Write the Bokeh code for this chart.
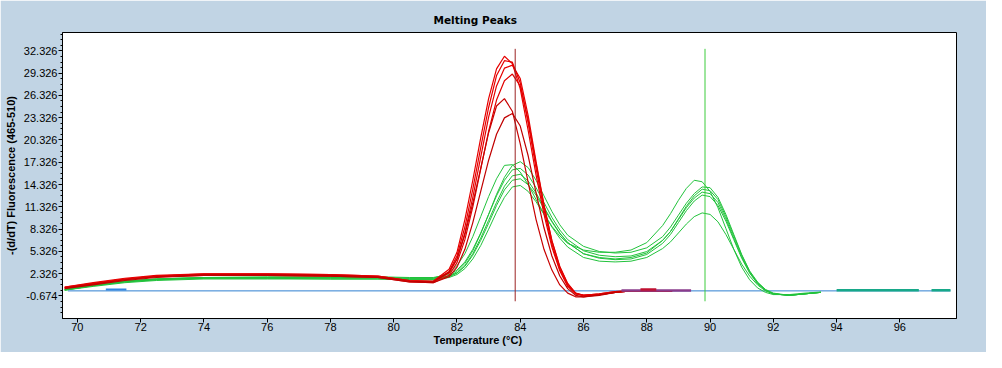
from bokeh.plotting import figure
from bokeh.models import FixedTicker, PrintfTickFormatter, Title, Range1d
from bokeh.embed import file_html
from bokeh.resources import INLINE

# ---------------- data ----------------
T_red = [69.6, 70.5, 71.5, 72.5, 74, 76, 78, 79.5, 80.5, 81.25, 81.75, 82, 82.25, 82.5,
         82.75, 83, 83.25, 83.5, 83.75, 84, 84.25, 84.5, 84.75, 85, 85.25, 85.5, 85.75,
         86, 86.5, 87, 87.5, 88.8]

red_1 = [0.5, 1.1, 1.7, 2.1, 2.3, 2.3, 2.2, 2.0, 1.4, 1.3, 2.9, 5.2, 9.6, 14.9, 20.6, 25.9,
         29.9, 31.6, 30.6, 27.2, 21.6, 15.6, 10.3, 5.9, 2.7, 0.6, -0.4, -0.6, -0.4, -0.1, 0.05, 0.0]
red_2 = [0.4, 1.0, 1.6, 2.0, 2.2, 2.2, 2.1, 1.9, 1.3, 1.2, 2.4, 4.3, 7.8, 12.6, 18.0, 23.4,
         27.6, 30.0, 30.4, 28.6, 23.6, 17.4, 11.6, 6.7, 3.2, 0.9, -0.3, -0.6, -0.5, -0.2, 0.0, 0.0]
red_3 = [0.4, 0.9, 1.5, 1.9, 2.1, 2.1, 2.0, 1.8, 1.2, 1.1, 2.1, 3.8, 6.9, 11.3, 16.4, 21.5,
         25.7, 28.3, 29.2, 27.6, 23.0, 17.1, 11.5, 6.8, 3.3, 1.0, -0.3, -0.6, -0.5, -0.2, 0.0, 0.0]
red_4 = [0.5, 1.0, 1.6, 2.0, 2.3, 2.3, 2.2, 2.0, 1.4, 1.3, 2.6, 4.7, 8.6, 13.7, 19.3, 24.7,
         29.0, 31.0, 30.8, 28.0, 22.6, 16.5, 10.9, 6.3, 2.9, 0.7, -0.4, -0.6, -0.4, -0.1, 0.0, 0.0]
red_5 = [0.4, 0.9, 1.5, 1.9, 2.2, 2.2, 2.1, 1.9, 1.3, 1.2, 2.5, 4.3, 7.6, 11.8, 16.5, 21.3,
         24.9, 25.9, 24.2, 19.8, 14.6, 9.6, 5.6, 2.8, 0.8, -0.3, -0.8, -0.8, -0.5, -0.2, 0.0, 0.0]
red_6 = [0.3, 0.8, 1.4, 1.8, 2.1, 2.1, 2.0, 1.8, 1.2, 1.1, 1.9, 3.2, 5.6, 9.2, 13.4, 17.6,
         21.1, 23.3, 23.9, 22.2, 18.2, 13.2, 8.5, 4.7, 2.0, 0.3, -0.6, -0.8, -0.6, -0.2, 0.0, 0.0]

T_green = [69.6, 70.5, 71.5, 72.5, 74, 76, 78, 79.5, 80.5, 81.25, 81.75, 82, 82.25, 82.5,
           82.75, 83, 83.25, 83.5, 83.75, 84, 84.25, 84.5, 84.75, 85, 85.25, 85.5, 86, 86.5,
           87, 87.5, 88, 88.5, 88.75, 89, 89.25, 89.5, 89.75, 90, 90.25, 90.5, 90.75, 91,
           91.25, 91.5, 91.75, 92, 92.5, 93, 93.5]

green_1 = [0.2, 0.8, 1.3, 1.6, 1.8, 1.8, 1.8, 1.8, 1.7, 1.7,
           2.4, 3.4, 5.0, 7.3, 10.0, 12.7, 15.1, 16.9, 17.0, 16.0,
           14.3, 12.3, 10.4, 8.7, 7.4, 6.4,
           5.5, 5.2, 5.2, 5.5, 6.5,
           8.8, 10.4, 12.2, 13.8, 14.9, 14.7, 13.4, 11.2, 8.4, 5.6, 3.2, 1.5, 0.4, -0.2,
           -0.5, -0.5, -0.3, -0.15]
green_2 = [0.1, 0.7, 1.2, 1.5, 1.7, 1.7, 1.7, 1.7, 1.6, 1.6,
           2.0, 2.6, 3.7, 5.4, 7.7, 10.3, 13.0, 15.3, 16.9, 17.4,
           16.6, 14.9, 12.8, 10.7, 8.9, 7.5,
           6.0, 5.3, 5.1, 5.2, 5.8,
           7.3, 8.6, 10.2, 11.8, 13.1, 14.0, 13.9, 12.6, 10.3, 7.6, 4.9, 2.7, 1.2, 0.2,
           -0.3, -0.6, -0.4, -0.2]
green_3 = [0.2, 0.8, 1.3, 1.6, 1.8, 1.9, 1.9, 1.9, 1.8, 1.8,
           2.2, 2.8, 3.9, 5.6, 7.8, 10.3, 12.8, 14.9, 16.3, 16.5,
           15.6, 13.9, 11.9, 9.9, 8.2, 6.9,
           5.4, 4.8, 4.6, 4.7, 5.3,
           6.8, 8.0, 9.6, 11.2, 12.5, 13.3, 13.1, 11.9, 9.7, 7.1, 4.6, 2.5, 1.0, 0.1,
           -0.4, -0.6, -0.4, -0.2]
green_4 = [0.1, 0.7, 1.2, 1.5, 1.7, 1.7, 1.6, 1.6, 1.5, 1.5,
           1.9, 2.4, 3.4, 5.0, 7.1, 9.5, 11.9, 14.1, 15.5, 15.7,
           14.8, 13.2, 11.3, 9.4, 7.8, 6.5,
           5.0, 4.4, 4.2, 4.3, 4.9,
           6.4, 7.6, 9.2, 10.8, 12.1, 12.9, 12.7, 11.5, 9.4, 6.9, 4.4, 2.4, 1.0, 0.1,
           -0.4, -0.6, -0.4, -0.2]
green_5 = [0.2, 0.8, 1.3, 1.6, 1.8, 1.8, 1.8, 1.8, 1.7, 1.7,
           2.0, 2.4, 3.3, 4.8, 6.8, 9.1, 11.5, 13.6, 14.9, 15.1,
           14.3, 12.9, 11.1, 9.3, 7.7, 6.5,
           5.0, 4.5, 4.3, 4.5, 5.1,
           6.8, 8.0, 9.7, 11.4, 12.8, 13.7, 13.5, 12.3, 10.0, 7.4, 4.8, 2.6, 1.1, 0.1,
           -0.4, -0.6, -0.4, -0.2]
green_6 = [0.1, 0.6, 1.1, 1.4, 1.6, 1.6, 1.6, 1.6, 1.5, 1.5,
           1.8, 2.2, 3.0, 4.3, 6.1, 8.3, 10.6, 12.6, 14.0, 14.2,
           13.4, 12.0, 10.3, 8.6, 7.1, 5.9,
           4.5, 4.0, 3.9, 4.0, 4.5,
           5.7, 6.6, 7.8, 9.0, 10.0, 10.5, 10.3, 9.3, 7.6, 5.6, 3.6, 2.0, 0.8, 0.0,
           -0.4, -0.6, -0.4, -0.2]

# flat traces (negative controls) near zero
base_T = [69.7, 97.6]
base_y = [0.0, 0.0]
blue_T = [70.9, 71.55]
blue_y = [0.2, 0.2]
purple_T = [87.2, 89.4]
purple_y = [0.05, 0.05]
redflat_T = [87.8, 88.3]
redflat_y = [0.2, 0.2]
teal_T1 = [94.0, 95.0, 96.0, 96.6]
teal_y1 = [0.1, 0.1, 0.1, 0.1]
teal_T2 = [97.0, 97.6]
teal_y2 = [0.1, 0.1]

# melting peak markers
peak_T = [83.84, 89.84]
peak_lo = [-1.4, -1.4]
peak_hi = [32.6, 32.6]
peak_colors = ["#9c2323", "#3ccc3c"]

x_ticks = [70, 72, 74, 76, 78, 80, 82, 84, 86, 88, 90, 92, 94, 96]
y_ticks = [-0.674, 2.326, 5.326, 8.326, 11.326, 14.326, 17.326, 20.326,
           23.326, 26.326, 29.326, 32.326]

title_text = "Melting Peaks"
x_label = "Temperature (\u00b0C)"
y_label = "-(d/dT) Fluorescence (465-510)"

# ---------------- figure ----------------
BG = "#c1d4e4"
p = figure(width=986, height=352,
           x_range=Range1d(69.53, 97.79), y_range=Range1d(-3.72, 34.8),
           output_backend="svg", toolbar_location=None, title=title_text,
           min_border_left=62, min_border_right=30, min_border_top=32, min_border_bottom=34,
           background_fill_color="white", border_fill_color=BG,
           outline_line_color="black", outline_line_width=1)
p.grid.visible = False

p.title.align = "left"
p.title.offset = 371
p.title.standoff = 14
p.title.text_font = "DejaVu Sans"
p.title.text_font_size = "10.5px"
p.title.text_font_style = "bold"
p.title.text_color = "black"

# baseline / flat traces
p.line(base_T, base_y, line_color="#2f7fd0", line_width=1)
p.line(blue_T, blue_y, line_color="#2f86e0", line_width=2)
p.line(teal_T1, teal_y1, line_color="#17a889", line_width=2.5)
p.line(teal_T2, teal_y2, line_color="#17a889", line_width=2.5)

for g in [green_1, green_2, green_3, green_4, green_5, green_6]:
    p.line(T_green, g, line_color="#22c23c", line_width=1)

red_cols = ["#e60000", "#e60000", "#e00000", "#e60000", "#c80000", "#c00000"]
for r, c in zip([red_1, red_2, red_3, red_4, red_5, red_6], red_cols):
    p.line(T_red, r, line_color=c, line_width=1.2)

p.line(purple_T, purple_y, line_color="#8a3c8c", line_width=2.5)
p.line(redflat_T, redflat_y, line_color="#c01030", line_width=2.5)

p.segment(x0=peak_T, y0=peak_lo, x1=peak_T, y1=peak_hi, line_color=peak_colors, line_width=1)

# axes
xa = p.xaxis[0]
xa.ticker = FixedTicker(ticks=x_ticks, minor_ticks=[])
xa.major_tick_out = 4
xa.major_tick_in = 0
xa.major_label_standoff = 0
xa.major_label_text_font = "Liberation Sans"
xa.major_label_text_font_size = "11px"
xa.major_label_text_color = "black"
xa.axis_line_color = "black"
xa.major_tick_line_color = "black"

y_minor = [t + 0.75 * k for t in [y_ticks[0] - 3] + y_ticks for k in range(1, 4)]
ya = p.yaxis[0]
ya.ticker = FixedTicker(ticks=y_ticks, minor_ticks=y_minor)
ya.formatter = PrintfTickFormatter(format="%.3f")
ya.major_tick_out = 4
ya.major_tick_in = 0
ya.minor_tick_out = 2
ya.minor_tick_in = 0
ya.major_label_standoff = 1
ya.major_label_text_font = "Liberation Sans"
ya.major_label_text_font_size = "11px"
ya.major_label_text_color = "black"
ya.axis_label = y_label
ya.axis_label_text_font = "Liberation Sans"
ya.axis_label_text_font_size = "11px"
ya.axis_label_text_font_style = "bold"
ya.axis_label_text_color = "black"
ya.axis_label_standoff = 4
ya.axis_line_color = "black"

p.add_layout(Title(text=x_label, align="left", offset=371, standoff=0, vertical_align="top",
                   text_font="Liberation Sans", text_font_size="11px", text_font_style="bold",
                   text_color="black"), "below")

open("out.html", "w").write(file_html(p, INLINE))
